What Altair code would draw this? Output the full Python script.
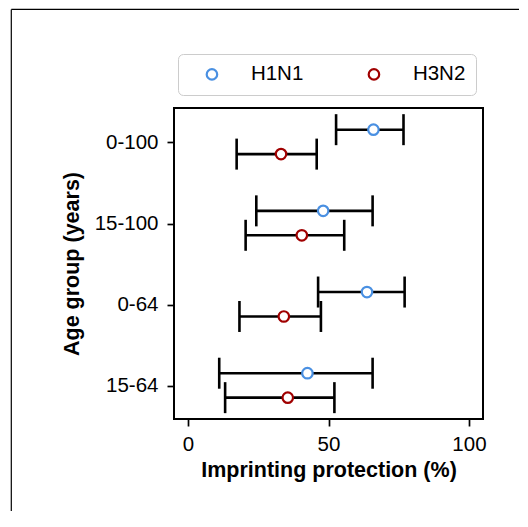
import altair as alt
import pandas as pd

age_groups = ["0-100", "15-100", "0-64", "15-64"]
strains = ["H1N1", "H3N2"]
h1n1_est = [66.0, 48.1, 63.7, 42.5]
h1n1_lo = [52.7, 24.3, 46.3, 11.1]
h1n1_hi = [76.7, 65.7, 77.1, 65.7]
h3n2_est = [33.1, 40.5, 34.1, 35.5]
h3n2_lo = [17.3, 20.5, 18.3, 13.2]
h3n2_hi = [45.8, 55.6, 47.3, 52.1]
colors = ["#4a90e2", "#a00000"]
x_ticks = [0, 50, 100]

rows = []
for i, g in enumerate(age_groups):
    rows.append(dict(group=g, idx=i, strain="H1N1", est=h1n1_est[i], lo=h1n1_lo[i], hi=h1n1_hi[i]))
    rows.append(dict(group=g, idx=i, strain="H3N2", est=h3n2_est[i], lo=h3n2_lo[i], hi=h3n2_hi[i]))
df = pd.DataFrame(rows)

FONT = "Liberation Sans"
label_expr = "[" + ",".join("'%s'" % g for g in age_groups) + "][datum.value]"

xscale = alt.Scale(domain=[-5, 105], nice=False, zero=False)
yscale = alt.Scale(domain=[-0.424, 3.407], reverse=True, nice=False, zero=False)
xaxis = alt.Axis(values=x_ticks, title="Imprinting protection (%)", labelPadding=8, titlePadding=5)
yaxis = alt.Axis(values=[0, 1, 2, 3], labelExpr=label_expr, title="Age group (years)",
                 labelPadding=9, titlePadding=11)


def X(field):
    return alt.X(field, type="quantitative", scale=xscale, axis=xaxis)


Y = alt.Y("ypos:Q", scale=yscale, axis=yaxis)

base = alt.Chart(df).transform_calculate(
    ypos="datum.idx + (datum.strain == 'H1N1' ? -0.157 : 0.144)"
)

bars = base.mark_rule(color="black", strokeWidth=2.6).encode(x=X("lo"), x2="hi:Q", y=Y)
cap_lo = base.mark_tick(orient="vertical", size=31, thickness=2.6, color="black", opacity=1).encode(x=X("lo"), y=Y)
cap_hi = base.mark_tick(orient="vertical", size=31, thickness=2.6, color="black", opacity=1).encode(x=X("hi"), y=Y)
points = base.mark_point(filled=False, fill="white", fillOpacity=1, size=110, strokeWidth=2.2, opacity=1).encode(
    x=X("est"),
    y=Y,
    color=alt.Color(
        "strain:N",
        scale=alt.Scale(domain=strains, range=colors),
        legend=alt.Legend(
            orient="none", legendX=4, legendY=-54, direction="horizontal", columns=2,
            title=None, padding=10, symbolOffset=13.7, labelOffset=28.7, columnPadding=46,
            labelFontSize=20.5, labelFont=FONT, labelColor="black", symbolSize=110,
            symbolStrokeWidth=2.2, strokeColor="#cccccc", fillColor="white", cornerRadius=5,
            symbolType="circle",
        ),
    ),
)

frame_data = alt.Data(values=[{"a": 1}])
frame_left = alt.Chart(frame_data).mark_rule(color="black", strokeWidth=1.2).encode(
    x=alt.value(-162.7), y=alt.value(-98.6), y2=alt.value(700)
)
frame_top = alt.Chart(frame_data).mark_rule(color="black", strokeWidth=1.2).encode(
    x=alt.value(-162.7), x2=alt.value(700), y=alt.value(-98.6)
)

chart = alt.layer(bars, cap_lo, cap_hi, points, frame_left, frame_top).properties(
    width=309, height=311,
    autosize=alt.AutoSizeParams(type="none"),
    padding={"left": 166, "top": 100, "right": 36, "bottom": 92},
).configure_view(stroke="black", strokeWidth=2).configure_axis(
    domain=False, grid=False, tickColor="black", tickWidth=1.7, tickSize=7,
    labelFont=FONT, labelFontSize=20.5, labelColor="black",
    titleFont=FONT, titleFontSize=21.5, titleFontWeight="bold", titleColor="black",
)

chart.save("out.html", embed_options={"renderer": "svg", "actions": False})
